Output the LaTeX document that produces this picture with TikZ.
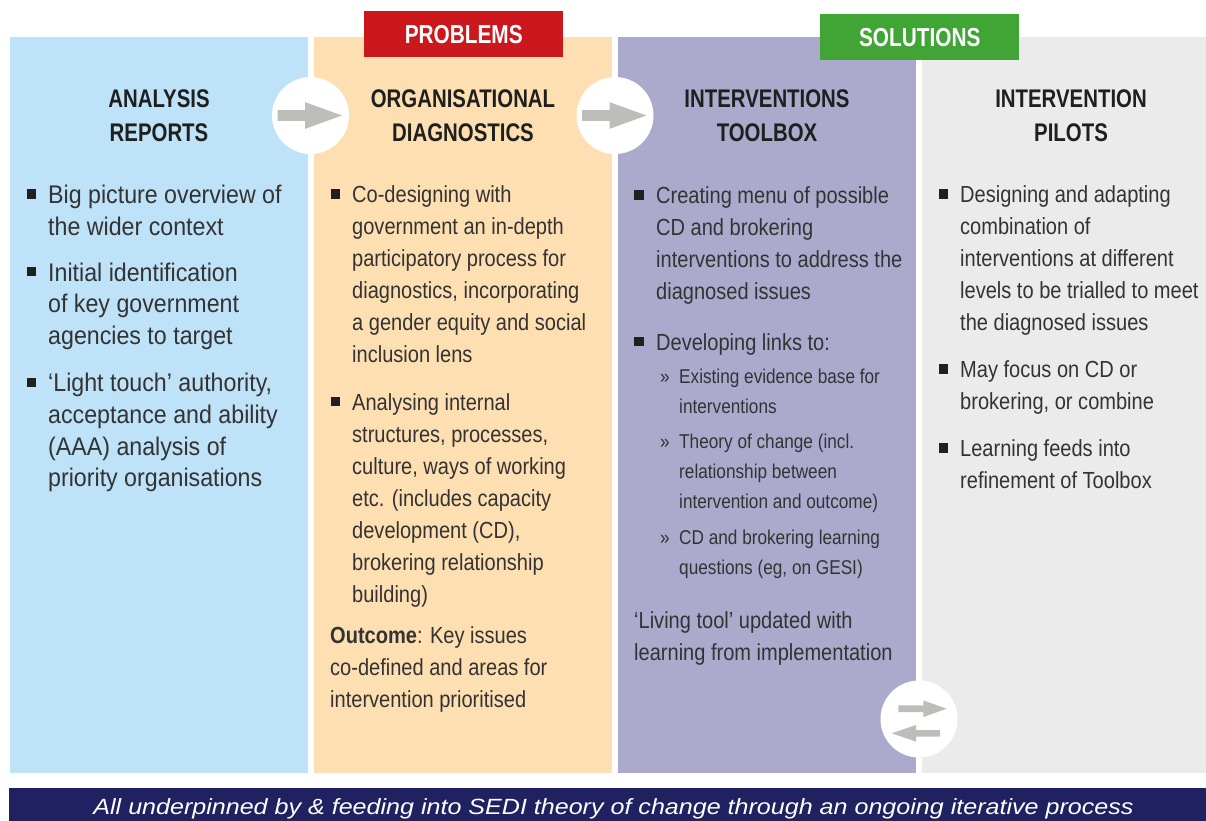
\documentclass[tikz,border=0pt]{standalone}
\usepackage{fontspec}
\setmainfont{Liberation Sans}
\newfontfamily\fontA[FakeStretch=0.91]{Liberation Sans}
\newfontfamily\fontB[FakeStretch=0.86]{Liberation Sans}
\newfontfamily\fontH[FakeStretch=0.8]{Liberation Sans}
\newfontfamily\fontI[FakeStretch=1.14]{Liberation Sans}
\usetikzlibrary{calc}
\definecolor{colA}{HTML}{BEE3F8}
\definecolor{colB}{HTML}{FDDFB1}
\definecolor{colC}{HTML}{ABAACD}
\definecolor{colD}{HTML}{EBEBEB}
\definecolor{redtag}{HTML}{CC181C}
\definecolor{greentag}{HTML}{41A536}
\definecolor{navy}{HTML}{1F2161}
\definecolor{arrowgray}{HTML}{BDBEBA}
\definecolor{txt}{HTML}{333333}
\definecolor{headc}{HTML}{1F1F1F}
\definecolor{bulc}{HTML}{231F20}
\newcommand\plines[6]{%
  \foreach \lt [count=\li from 0] in {#6}{%
    \node[#1] (#2-\li) at (#3,{#4+\li*#5}) {\lt};}}
\begin{document}
\begin{tikzpicture}[x=1pt,y=-1pt,
  colbox/.style={rectangle, draw=none, inner sep=0, outer sep=0, anchor=north west},
  tagbox/.style={rectangle, inner sep=0, anchor=north west, minimum width=199, minimum height=46, text=white, font=\fontH\bfseries\fontsize{26}{30}\selectfont},
  headtext/.style={anchor=base, inner sep=0, text=headc, font=\fontH\bfseries\fontsize{25.5}{30}\selectfont},
  bodyA/.style={anchor=base west, inner sep=0, text=txt, font=\fontA\fontsize{25.5}{32}\selectfont},
  bodyB/.style={anchor=base west, inner sep=0, text=txt, font=\fontB\fontsize{23.3}{32}\selectfont},
  subB/.style={anchor=base west, inner sep=0, text=txt, font=\fontB\fontsize{20}{30}\selectfont},
  bullet/.style={rectangle, fill=bulc, minimum size=9.5, inner sep=0},
  circ/.style={circle, fill=white, minimum size=77, inner sep=0},
  garrow/.style={fill=arrowgray, draw=none}]
\useasboundingbox (0,0) rectangle (1206,820);

% columns
\node[colbox, fill=colA, minimum width=298, minimum height=736] (col1) at (10,37) {};
\node[colbox, fill=colB, minimum width=298, minimum height=736] (col2) at (314,37) {};
\node[colbox, fill=colC, minimum width=298, minimum height=736] (col3) at (618,37) {};
\node[colbox, fill=colD, minimum width=284, minimum height=736] (col4) at (922,37) {};

% tags
\node[tagbox, fill=redtag] (problems) at (364,11) {PROBLEMS};
\node[tagbox, fill=greentag] (solutions) at (820,14) {SOLUTIONS};

% headings
\node[headtext] (h1a) at (159,107.5) {ANALYSIS};
\node[headtext] (h1b) at (159,141.8) {REPORTS};
\node[headtext] (h2a) at (463,107.5) {ORGANISATIONAL};
\node[headtext] (h2b) at (463,141.8) {DIAGNOSTICS};
\node[headtext] (h3a) at (767,107.5) {INTERVENTIONS};
\node[headtext] (h3b) at (767,141.8) {TOOLBOX};
\node[headtext] (h4a) at (1071,107.5) {INTERVENTION};
\node[headtext] (h4b) at (1071,141.8) {PILOTS};

% circles with arrows
\node[circ] (cirA) at (310.5,115.5) {};
\node[circ] (cirB) at (615,115.5) {};
\node[circ] (cirC) at (919,719) {};
\foreach \c in {cirA,cirB}{
  \begin{scope}[shift={(\c)}]
    \fill[garrow] (-33,-5.4) -- (-5.3,-5.4) -- (-5.3,-13.3) -- (31.4,0) -- (-5.3,13.3) -- (-5.3,5.4) -- (-33,5.4) -- cycle;
  \end{scope}}
\begin{scope}[shift={(cirC)}]
  \fill[garrow] (-20.7,-13.6) -- (4.3,-13.6) -- (4.3,-18.6) -- (27.7,-10.3) -- (4.3,-2) -- (4.3,-7) -- (-20.7,-7) -- cycle;
  \fill[garrow] (21,11) -- (-3,11) -- (-3,6) -- (-27.3,14.3) -- (-3,22.6) -- (-3,17.6) -- (21,17.6) -- cycle;
\end{scope}

% column 1
\node[bullet] (b1a) at (31.5,194) {};
\node[bullet] (b1b) at (31.5,271.7) {};
\node[bullet] (b1c) at (31.5,382.4) {};
\plines{bodyA}{t1a}{48}{203.3}{31.7}{{Big picture overview of},{the wider context}}
\plines{bodyA}{t1b}{48}{281}{31.7}{{Initial identification},{of key government},{agencies to target}}
\plines{bodyA}{t1c}{48}{391.7}{31.7}{{‘Light touch’ authority,},{acceptance and ability},{(AAA) analysis of},{priority organisations}}

% column 2
\node[bullet] (b2a) at (335.5,194.2) {};
\node[bullet] (b2b) at (335.5,401.5) {};
\plines{bodyB}{t2a}{352}{202.7}{32}{{Co-designing with},{government an in-depth},{participatory process for},{diagnostics, incorporating},{a gender equity and social},{inclusion lens}}
\plines{bodyB}{t2b}{352}{410}{32}{{Analysing internal},{structures, processes,},{culture, ways of working},{etc. (includes capacity},{development (CD),},{brokering relationship},{building)}}
\plines{bodyB}{t2c}{330}{643.3}{32}{{\textbf{Outcome}: Key issues},{co-defined and areas for},{intervention prioritised}}

% column 3
\node[bullet] (b3a) at (639,194.8) {};
\node[bullet] (b3b) at (639,341.5) {};
\plines{bodyB}{t3a}{656}{203.3}{32}{{Creating menu of possible},{CD and brokering},{interventions to address the},{diagnosed issues}}
\plines{bodyB}{t3b}{656}{350}{32}{{Developing links to:}}
\node[subB] (s3a) at (660,383.3) {»};
\node[subB] (s3b) at (660,448) {»};
\node[subB] (s3c) at (660,544) {»};
\plines{subB}{t3c}{679}{383.3}{30}{{Existing evidence base for},{interventions}}
\plines{subB}{t3d}{679}{448}{30}{{Theory of change (incl.},{relationship between},{intervention and outcome)}}
\plines{subB}{t3e}{679}{544}{30}{{CD and brokering learning},{questions (eg, on GESI)}}
\plines{bodyB}{t3f}{634}{628}{32}{{‘Living tool’ updated with},{learning from implementation}}

% column 4
\node[bullet] (b4a) at (943.3,194.2) {};
\node[bullet] (b4b) at (943.3,368.8) {};
\node[bullet] (b4c) at (943.3,448.2) {};
\plines{bodyB}{t4a}{960}{202.7}{32}{{Designing and adapting},{combination of},{interventions at different},{levels to be trialled to meet},{the diagnosed issues}}
\plines{bodyB}{t4b}{960}{377.3}{32}{{May focus on CD or},{brokering, or combine}}
\plines{bodyB}{t4c}{960}{456.7}{32}{{Learning feeds into},{refinement of Toolbox}}

% bottom bar
\node[colbox, fill=navy, minimum width=1197, minimum height=40] (bar) at (9,788) {};
\node[anchor=base, inner sep=0, text=white, font=\fontI\itshape\fontsize{22}{26}\selectfont] (bartext) at (613.5,814) {All underpinned by \& feeding into SEDI theory of change through an ongoing iterative process};
\end{tikzpicture}
\end{document}
